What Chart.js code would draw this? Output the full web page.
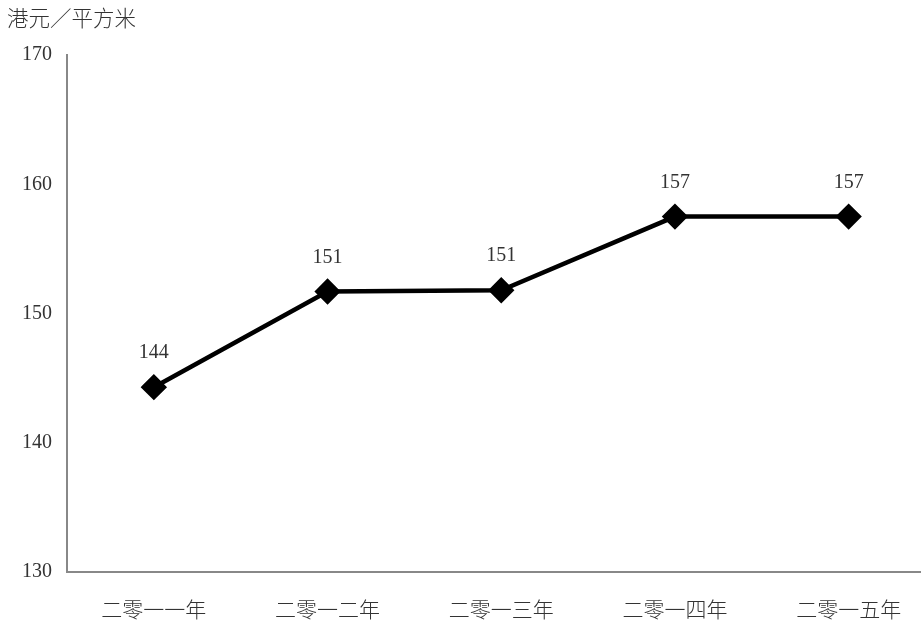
<!DOCTYPE html>
<html>
<head>
<meta charset="utf-8">
<script src="https://cdn.jsdelivr.net/npm/chart.js@4/dist/chart.umd.min.js"></script>
<style>
  html, body { margin: 0; padding: 0; background: #fff; overflow: hidden; }
  #wrap { width: 950px; height: 621px; }
</style>
</head>
<body>
<div id="wrap"><canvas id="myChart"></canvas></div>
<script>
const years = ['二零一一年', '二零一二年', '二零一三年', '二零一四年', '二零一五年'];
const rents = [144.3, 151.7, 151.8, 157.5, 157.5];
const rentLabels = ['144', '151', '151', '157', '157'];
const unitTitle = '港元／平方米';

const serif = '"Liberation Serif", "Noto Sans CJK SC", serif';
const cjk = '"Noto Sans CJK SC", sans-serif';

// unit text at top left + value labels above each point
const extraText = {
    id: 'extraText',
    afterDatasetsDraw(chart) {
        const ctx = chart.ctx;
        ctx.save();
        ctx.fillStyle = '#333';
        ctx.font = '300 21.5px ' + cjk;
        ctx.textAlign = 'left';
        ctx.textBaseline = 'middle';
        ctx.fillText(unitTitle, 7, 18);

        ctx.font = '20px ' + serif;
        ctx.textAlign = 'center';
        const meta = chart.getDatasetMeta(0);
        meta.data.forEach((p, i) => {
            ctx.fillText(rentLabels[i], p.x, p.y - 34);
        });
        ctx.restore();
    }
};

new Chart(document.getElementById('myChart'), {
    type: 'line',
    data: {
        labels: years,
        datasets: [{
            data: rents,
            borderColor: '#000',
            backgroundColor: '#000',
            borderWidth: 4.5,
            pointStyle: 'rectRot',
            pointRadius: 10,
            pointHoverRadius: 10,
            pointBackgroundColor: '#000',
            pointBorderColor: '#000',
            tension: 0
        }]
    },
    options: {
        responsive: true,
        maintainAspectRatio: false,
        animation: false,
        layout: { padding: { top: 55, right: 3, left: 0, bottom: 0 } },
        plugins: {
            legend: { display: false },
            tooltip: { enabled: false }
        },
        scales: {
            x: {
                offset: true,
                grid: { display: false, drawTicks: false },
                border: { color: '#888', width: 2 },
                ticks: {
                    color: '#333',
                    padding: 24,
                    font: { family: cjk, size: 21, weight: 300 }
                },
                afterFit(s) { s.height = 49; }
            },
            y: {
                min: 130,
                max: 170,
                grid: { display: false, drawTicks: false },
                border: { color: '#888', width: 2 },
                ticks: {
                    stepSize: 10,
                    color: '#333',
                    padding: 15,
                    font: { family: serif, size: 20 }
                },
                afterFit(s) { s.width = 67; }
            }
        }
    },
    plugins: [extraText]
});
</script>
</body>
</html>
